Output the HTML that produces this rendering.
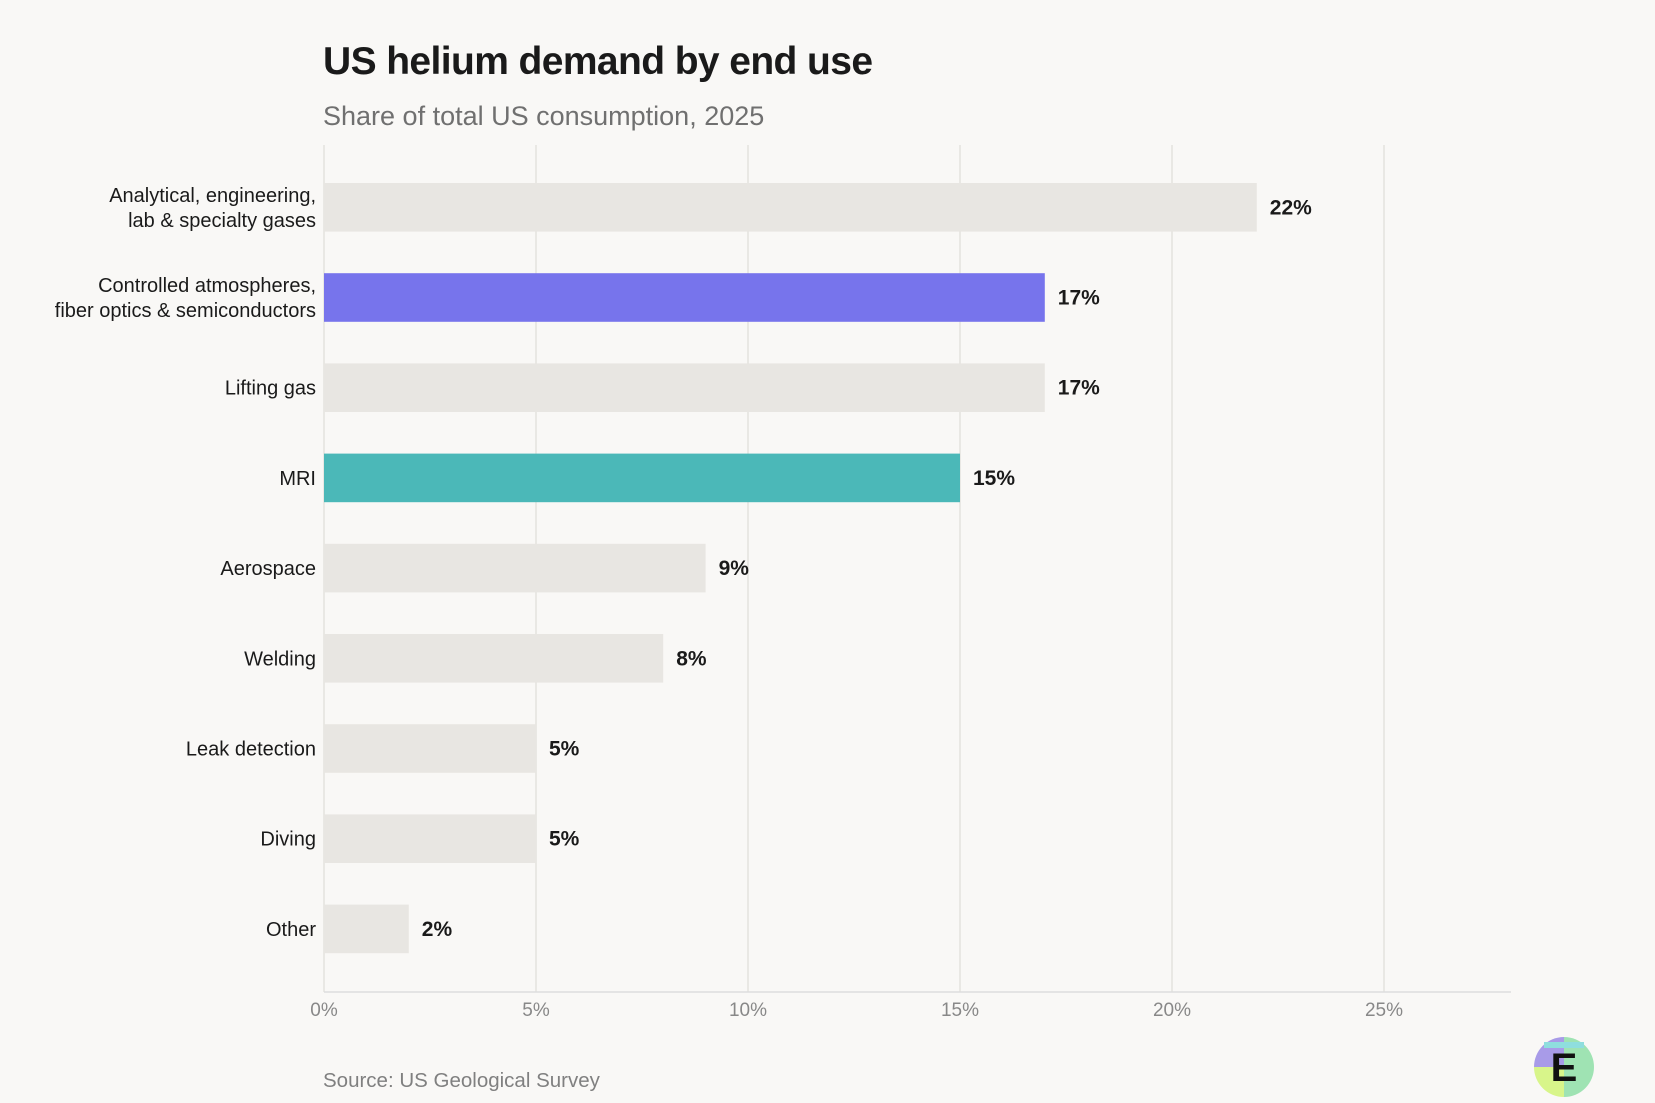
<!DOCTYPE html>
<html><head><meta charset="utf-8"><style>
html,body{margin:0;padding:0;background:#f9f8f6;}
body{width:1655px;height:1103px;position:relative;overflow:hidden;font-family:"Liberation Sans",sans-serif;}
#title{position:absolute;left:323px;top:40px;font-size:39px;font-weight:bold;color:#1a1a1a;letter-spacing:-0.6px;margin:0}
#sub{position:absolute;left:323px;top:101px;font-size:27px;color:#707070;margin:0}
#src{position:absolute;left:323px;top:1069px;font-size:20.5px;color:#808080;margin:0}
</style></head><body>
<h1 id="title">US helium demand by end use</h1>
<p id="sub">Share of total US consumption, 2025</p>
<svg id="chart" width="1655" height="1103" style="position:absolute;left:0;top:0"></svg>
<p id="src">Source: US Geological Survey</p>
<svg width="64" height="64" style="position:absolute;left:1532px;top:1035px" viewBox="0 0 64 64">
<path d="M32 32 L32 2 A30 30 0 0 1 62 32 Z" fill="#9fe3b3"/>
<path d="M32 32 L62 32 A30 30 0 0 1 32 62 Z" fill="#9fe3b3"/>
<path d="M32 32 L32 62 A30 30 0 0 1 2 32 Z" fill="#d8f58a"/>
<path d="M32 32 L2 32 A30 30 0 0 1 32 2 Z" fill="#a89be8"/>
<path d="M12 10 L52 10" stroke="#8fdede" stroke-width="6"/>
<text x="32" y="46" text-anchor="middle" font-size="40" font-weight="bold" font-family="Liberation Sans, sans-serif" fill="#111">E</text>
</svg>
<script>
const categories=[["Analytical, engineering,","lab & specialty gases"],["Controlled atmospheres,","fiber optics & semiconductors"],["Lifting gas"],["MRI"],["Aerospace"],["Welding"],["Leak detection"],["Diving"],["Other"]];
const values=[22,17,17,15,9,8,5,5,2];
const colors=["#e8e6e2","#7774ec","#e8e6e2","#4bb8b8","#e8e6e2","#e8e6e2","#e8e6e2","#e8e6e2","#e8e6e2"];
const ticks=[0,5,10,15,20,25];
const tickLabels=["0%","5%","10%","15%","20%","25%"];
const svg=document.getElementById('chart');const NS="http://www.w3.org/2000/svg";
const x0=324,pxPer=212/5,top0=183,step=90.2,bh=48.6,axisY=992;
const X=v=>x0+v*pxPer;const Y=i=>top0+i*step;
function mk(t,a){const e=document.createElementNS(NS,t);for(const k in a)e.setAttribute(k,a[k]);svg.appendChild(e);return e;}
ticks.forEach((t,i)=>{
 const g=mk('line',{x1:X(t),x2:X(t),y1:145,y2:axisY,stroke:'#e4e2de','stroke-width':1.5});
 
 
 const l=mk('text',{x:X(t),y:1016,'text-anchor':'middle','font-size':19,fill:'#888'});l.textContent=tickLabels[i];
 
 
});
const ax=mk('line',{x1:x0,x2:1511,y1:axisY,y2:axisY,stroke:'#ddd','stroke-width':1.5});


values.forEach((v,i)=>{
 const r=mk('rect',{x:x0,y:Y(i),width:X(v)-x0,height:bh,fill:colors[i]});
 
 
 const t=mk('text',{x:X(v)+13,y:Y(i)+bh/2+7,'font-size':21,'font-weight':'bold',fill:'#1a1a1a'});t.textContent=v+'%';
 
 
 const lines=categories[i];const cy=Y(i)+bh/2;
 lines.forEach((s,j)=>{
  const c=mk('text',{x:316,y:cy+7+(j-(lines.length-1)/2)*25,'text-anchor':'end','font-size':20,fill:'#1a1a1a'});c.textContent=s;
  
  
 });
});
</script>
</body></html>
